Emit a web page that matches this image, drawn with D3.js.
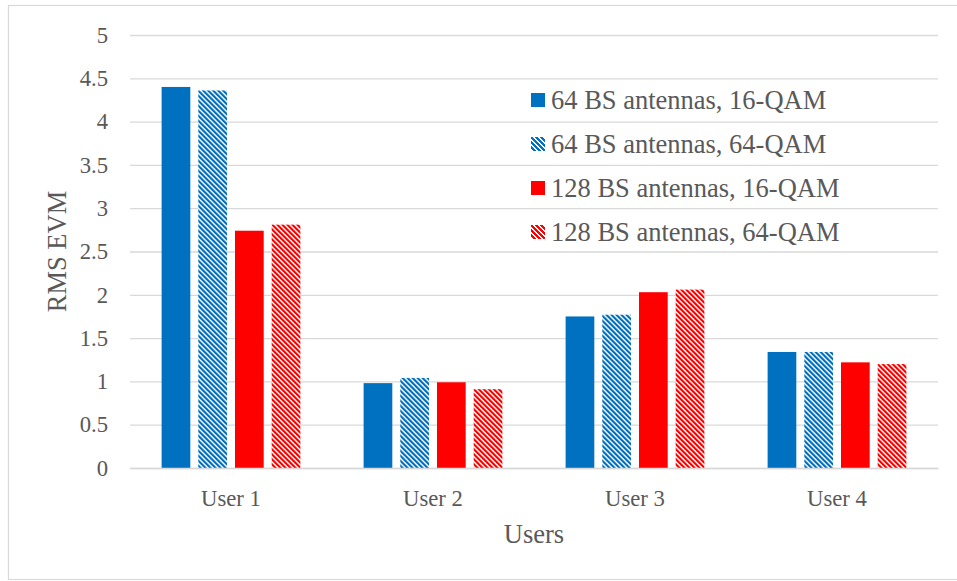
<!DOCTYPE html>
<html>
<head>
<meta charset="utf-8">
<script src="https://cdn.jsdelivr.net/npm/d3@7"></script>
<style>
  html, body { margin: 0; padding: 0; background: #fff; }
  svg { display: block; }
  svg text { font-family: "Liberation Serif", "Times New Roman", serif; }
</style>
</head>
<body>
<svg id="chart" width="957" height="581"></svg>
<script>
// RMS EVM per user for each antenna / modulation configuration
const users = ["User 1", "User 2", "User 3", "User 4"];
const seriesNames = [
  "64 BS antennas, 16-QAM",
  "64 BS antennas, 64-QAM",
  "128 BS antennas, 16-QAM",
  "128 BS antennas, 64-QAM"
];
const bs64qam16  = [4.40, 0.98, 1.75, 1.34];
const bs64qam64  = [4.36, 1.04, 1.77, 1.34];
const bs128qam16 = [2.74, 0.99, 2.03, 1.22];
const bs128qam64 = [2.81, 0.91, 2.06, 1.20];
const yTicks = [0, 0.5, 1, 1.5, 2, 2.5, 3, 3.5, 4, 4.5, 5];

const seriesValues = [bs64qam16, bs64qam64, bs128qam16, bs128qam64];
const seriesColor = ["#0070C0", "#0070C0", "#FF0000", "#FF0000"];
const seriesHatched = [false, true, false, true];

const svg = d3.select("#chart");
const plot = { left: 130, right: 938, top: 35, bottom: 468 };
const textColor = "#595959";
const gridColor = "#d9d9d9";
const serif = "'Liberation Serif', 'Times New Roman', serif";

// Outer chart frame
svg.append("rect")
  .attr("x", 8.5).attr("y", 5.5)
  .attr("width", 960).attr("height", 574)
  .attr("fill", "none").attr("stroke", gridColor).attr("stroke-width", 1.2);

// Downward-diagonal hatch patterns (pixel staircase stripes, 5px period)
const defs = svg.append("defs");
const P = 5, ON = 3;
["#0070C0", "#FF0000"].forEach((c, i) => {
  const p = defs.append("pattern")
    .attr("id", "hatch" + i)
    .attr("patternUnits", "userSpaceOnUse")
    .attr("width", P).attr("height", P);
  p.append("rect").attr("width", P).attr("height", P).attr("fill", "#fff");
  for (let r = 0; r < P; r++) {
    for (let k = 0; k < ON; k++) {
      const x = (r + k) % P;
      p.append("rect")
        .attr("x", x).attr("y", r)
        .attr("width", 1).attr("height", 1)
        .attr("fill", c)
        .attr("shape-rendering", "crispEdges");
    }
  }
});
function fillFor(i) {
  if (!seriesHatched[i]) return seriesColor[i];
  return seriesColor[i] === "#0070C0" ? "url(#hatch0)" : "url(#hatch1)";
}

const y = d3.scaleLinear().domain([0, 5]).range([plot.bottom, plot.top]);
const x0 = d3.scaleBand().domain(users)
  .range([plot.left, plot.right])
  .paddingInner(0.313).paddingOuter(0.1565);
const x1 = d3.scaleBand().domain(d3.range(seriesNames.length))
  .range([0, x0.bandwidth()])
  .paddingInner(0.218);

// Horizontal gridlines
const grid = svg.append("g")
  .attr("transform", `translate(${plot.left},0)`)
  .call(d3.axisLeft(y).tickValues(yTicks).tickSize(-(plot.right - plot.left)).tickFormat(""));
grid.select(".domain").remove();
grid.selectAll("line").attr("stroke", gridColor).attr("stroke-width", 1.3);

// Y axis labels
const yAxis = svg.append("g")
  .attr("transform", `translate(${plot.left - 22},0)`)
  .call(d3.axisLeft(y).tickValues(yTicks).tickSize(0).tickPadding(0).tickFormat(d3.format("")));
yAxis.attr("font-family", serif);
yAxis.select(".domain").remove();
yAxis.selectAll("text")
  .attr("fill", textColor)
  .style("font-size", "22.7px")
  .style("font-family", serif);

// Bars
const groups = svg.append("g").selectAll("g")
  .data(users)
  .join("g")
  .attr("transform", d => `translate(${x0(d)},0)`);

groups.selectAll("rect")
  .data((u, ui) => seriesValues.map((vals, si) => ({ si, v: vals[ui] })))
  .join("rect")
  .attr("x", d => x1(d.si))
  .attr("width", x1.bandwidth())
  .attr("y", d => y(d.v))
  .attr("height", d => y(0) - y(d.v))
  .attr("fill", d => fillFor(d.si));

// X axis line and labels
const xAxis = svg.append("g")
  .attr("transform", `translate(0,${plot.bottom})`)
  .call(d3.axisBottom(x0).tickSize(0).tickPadding(22));
xAxis.attr("font-family", serif);
xAxis.select(".domain").attr("stroke", gridColor).attr("stroke-width", 1.3);
xAxis.selectAll("text")
  .attr("fill", textColor)
  .style("font-size", "22.7px")
  .style("font-family", serif);

// Axis titles
svg.append("text")
  .attr("x", (plot.left + plot.right) / 2)
  .attr("y", 543)
  .attr("text-anchor", "middle")
  .attr("fill", textColor)
  .style("font-size", "26.5px")
  .style("font-family", serif)
  .text("Users");

svg.append("text")
  .attr("transform", `translate(66,${(plot.top + plot.bottom) / 2}) rotate(-90)`)
  .attr("text-anchor", "middle")
  .attr("fill", textColor)
  .style("font-size", "26.5px")
  .style("font-family", serif)
  .text("RMS EVM");

// Legend
const legend = svg.append("g").selectAll("g")
  .data(seriesNames)
  .join("g")
  .attr("transform", (d, i) => `translate(531,${109 + i * 44})`);
legend.append("rect")
  .attr("x", 0).attr("y", -16)
  .attr("width", 14).attr("height", 14)
  .attr("fill", (d, i) => fillFor(i));
legend.append("text")
  .attr("x", 20).attr("y", 0)
  .attr("fill", textColor)
  .style("font-size", "26.5px")
  .style("font-family", serif)
  .text(d => d);
</script>
</body>
</html>
